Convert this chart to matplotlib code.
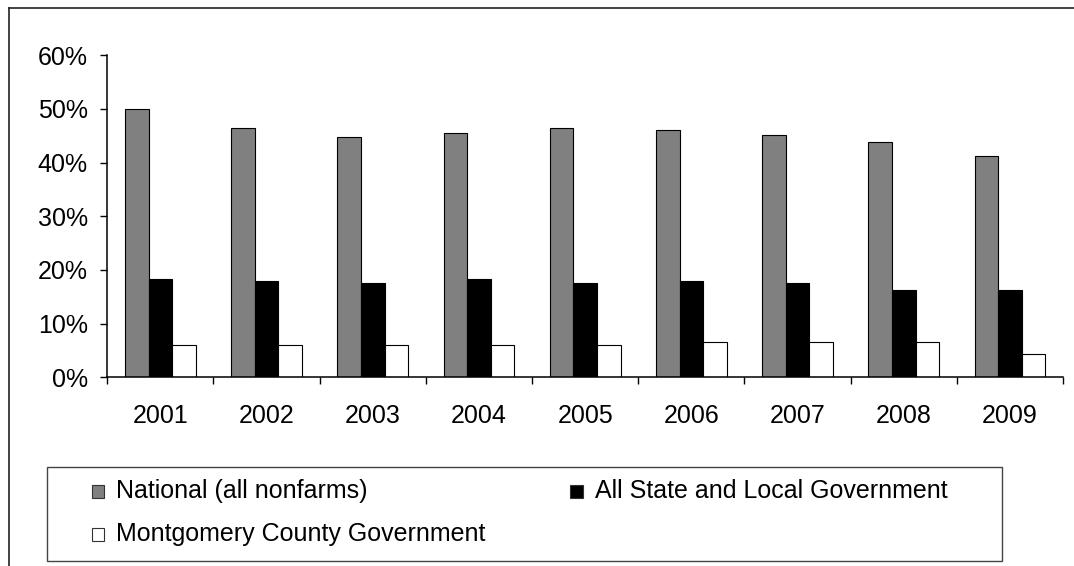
import matplotlib
matplotlib.use("Agg")
import matplotlib.pyplot as plt
from matplotlib.patches import Rectangle
from matplotlib.lines import Line2D
import numpy as np

plt.rcParams['font.family'] = ['Liberation Sans', 'DejaVu Sans']

years = ["2001", "2002", "2003", "2004", "2005", "2006", "2007", "2008", "2009"]
national = [50.0, 46.5, 44.7, 45.6, 46.5, 46.1, 45.2, 43.8, 41.2]
state_local = [18.4, 17.9, 17.5, 18.4, 17.5, 17.9, 17.5, 16.2, 16.2]
montgomery = [6.1, 6.1, 6.1, 6.1, 6.1, 6.6, 6.6, 6.6, 4.4]
series_names = ["National (all nonfarms)", "All State and Local Government",
                "Montgomery County Government"]
series_colors = ["#808080", "#000000", "#ffffff"]
yticks = [0, 10, 20, 30, 40, 50, 60]

W, H = 1074, 566
FS = 18
fig = plt.figure(figsize=(W / 100, H / 100), dpi=100)

def fx(px):
    return px / W

def fy(py):
    return 1 - py / H

ax = fig.add_axes([fx(107.3), fy(377.3), fx(1063) - fx(107.3), fy(55.3) - fy(377.3)])

x = np.arange(len(years))
bw = 0.222
for i, (vals, col) in enumerate(zip([national, state_local, montgomery], series_colors)):
    ax.bar(x + (i - 1) * bw, vals, width=bw, color=col, edgecolor="black",
           linewidth=0.8, label=series_names[i])

ax.set_xlim(-0.5, len(years) - 0.5)
ax.set_ylim(0, 60)
ax.set_yticks(yticks)
ax.set_yticklabels([f"{v}%" for v in yticks], fontsize=FS)
ax.set_xticks(x)
ax.set_xticklabels(years, fontsize=FS)
ax.set_xticks(np.arange(-0.5, len(years), 1.0), minor=True)
ax.tick_params(axis="x", which="major", length=0, pad=19)
ax.tick_params(axis="x", which="minor", length=5, width=1, direction="out")
ax.tick_params(axis="y", length=5, width=1, direction="out", pad=9)
for s in ["top", "right"]:
    ax.spines[s].set_visible(False)
for s in ["left", "bottom"]:
    ax.spines[s].set_linewidth(1.1)
    ax.spines[s].set_color("black")

# outer frame (top and left edges visible)
fig.add_artist(Line2D([fx(9), 1.0], [fy(8), fy(8)], color="#222222", lw=1.2,
                      transform=fig.transFigure))
fig.add_artist(Line2D([fx(9), fx(9)], [fy(8), 0.0], color="#222222", lw=1.2,
                      transform=fig.transFigure))

# legend box
fig.add_artist(Rectangle((fx(46.7), fy(561)), fx(1002) - fx(46.7), fy(466.7) - fy(561),
                         transform=fig.transFigure, facecolor="white",
                         edgecolor="#444444", lw=1.0))
# (series index, marker left, marker bottom, text left, text baseline)
entries = [(0, 91.5, 497.5, 116, 498), (1, 570, 497.5, 595, 498),
           (2, 91.5, 540.5, 116, 541)]
for idx, mx, mb, tx, ty in entries:
    s = 12.5
    fig.add_artist(Rectangle((fx(mx), fy(mb)), fx(s), fy(mb - s) - fy(mb),
                             transform=fig.transFigure, facecolor=series_colors[idx],
                             edgecolor="#333333", lw=0.8))
    fig.text(fx(tx), fy(ty), series_names[idx], fontsize=FS, va="baseline", ha="left")

fig.savefig("out.png", dpi=100)
